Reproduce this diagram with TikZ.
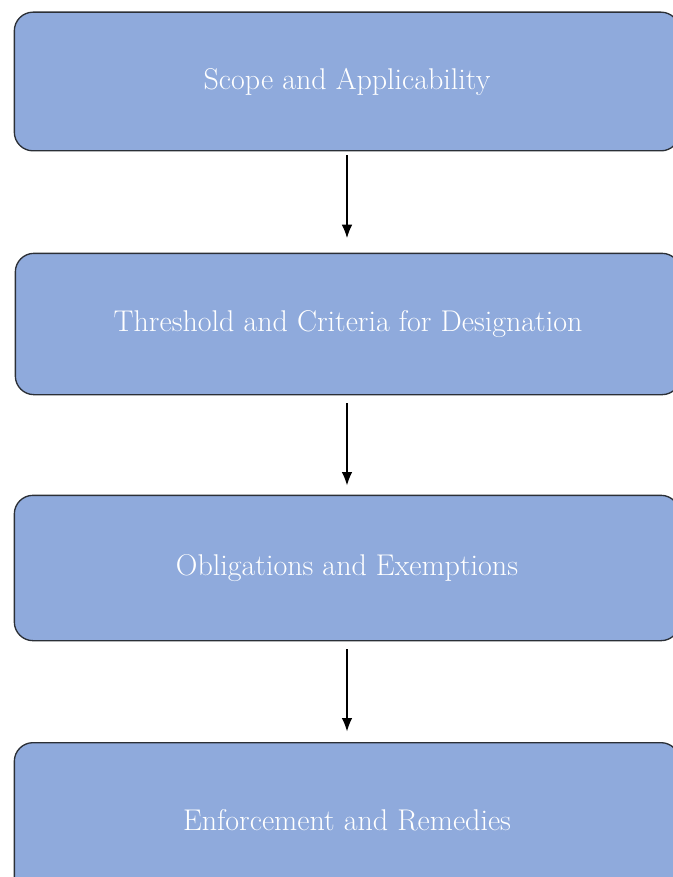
\documentclass[tikz,border=0pt]{standalone}
\usepackage{tikz,color}
\usetikzlibrary{positioning,shapes.misc,arrows.meta}
\usepackage{xcolor}
\definecolor{boxblue}{HTML}{8FAADC}
\definecolor{boxline}{HTML}{2B2F36}

\begin{document}
\begin{tikzpicture}[x=0.75pt,y=-0.75pt,
		stage/.style={rounded corners=14pt,draw=boxline,line width=1pt,fill=boxblue,
			text=white,minimum width=499pt,font=\fontsize{22.5}{26}\selectfont},
		flow/.style={-{Latex[length=10pt,width=8pt]},line width=0.9pt}]
		\clip (0,0) rectangle (673,877);
		\useasboundingbox (0,0) rectangle (673,877);
		\node[stage,minimum height=104pt] (scope) at (347,81.5) {Scope and Applicability};
		\node[stage,minimum height=106pt] (thresh) at (348,324) {Threshold and Criteria for Designation};
		\node[stage,minimum height=109pt] (oblig) at (347,568) {Obligations and Exemptions};
		\node[stage,minimum height=116pt] (enforce) at (347,820) {Enforcement and Remedies};
		\draw[flow] ([yshift=-3pt]scope.south) -- ([yshift=11pt]scope.south |- thresh.north);
		\draw[flow] ([yshift=-6pt]scope.south |- thresh.south) -- ([yshift=7pt]oblig.north);
		\draw[flow] ([yshift=-6pt]oblig.south) -- ([yshift=8pt]enforce.north);
	\end{tikzpicture}
\end{document}
